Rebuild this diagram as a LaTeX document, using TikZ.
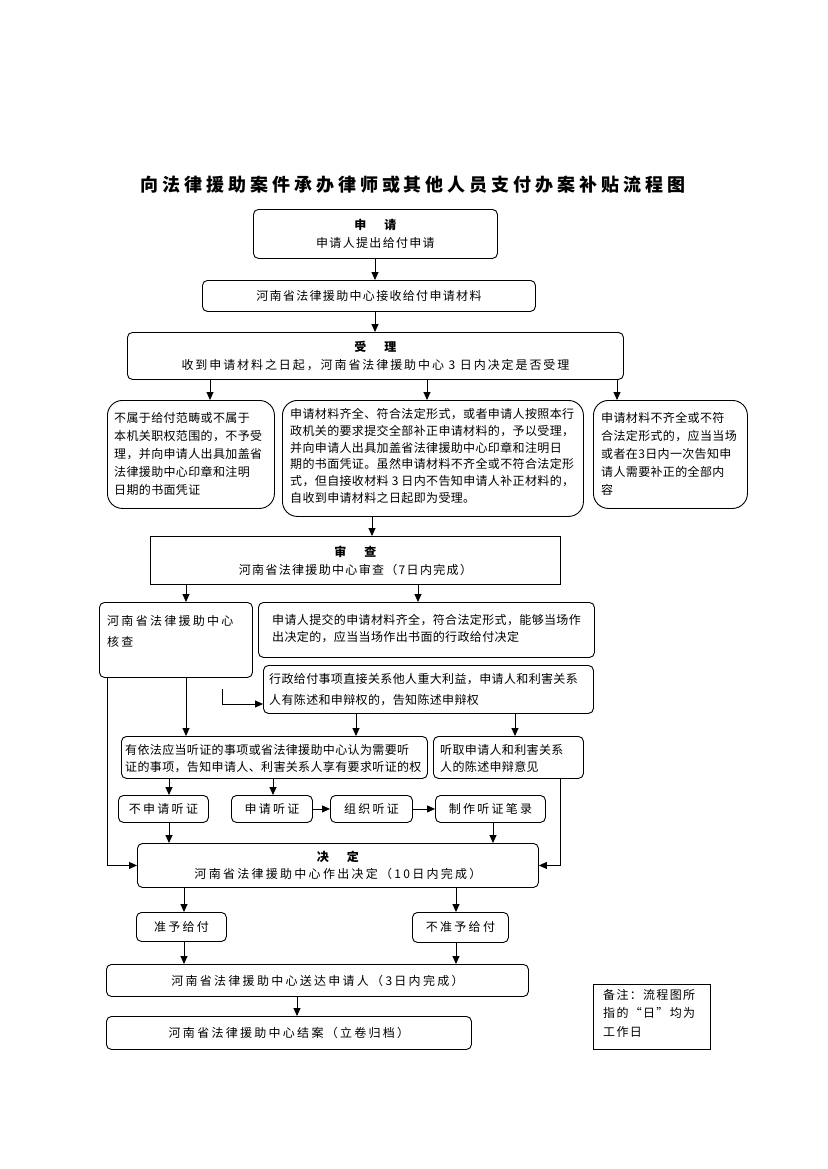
\documentclass[tikz,border=0pt]{standalone}
\usepackage{fontspec}
\setmainfont{Noto Sans CJK SC}
\newfontfamily\fT{Noto Sans CJK SC}[LetterSpace=22]
\newfontfamily\fH{Noto Sans CJK SC}[LetterSpace=25]
\newfontfamily\fS{Noto Sans CJK SC}[LetterSpace=3]
\newfontfamily\fM{Noto Sans CJK SC}[LetterSpace=11]
\newfontfamily\fL{Noto Sans CJK SC}[LetterSpace=16]
\newfontfamily\fW{Noto Sans CJK SC}[LetterSpace=19]
\usetikzlibrary{arrows.meta}
\newcommand\varr[3]{\draw[arr] (#2.south -| #1) -- (#3.north -| #1);}
\begin{document}
\begin{tikzpicture}[x=1pt,y=-1pt,
  bx/.style={draw, line width=0.9pt, rounded corners=5pt, anchor=north west, inner sep=0pt, align=center},
  big/.style={bx, rounded corners=15pt},
  sq/.style={bx, sharp corners},
  txt/.style={anchor=west, inner sep=0pt, align=left},
  arr/.style={line width=0.9pt, -{Triangle[length=8pt,width=7pt]}},
  hd/.style={font=\fontsize{12}{18}\selectfont}]
\useasboundingbox[fill=white] (0,0) rectangle (827,1169);

% title
\node[inner sep=0pt] (title) at (413,185) {\fT\bfseries\fontsize{18}{18}\selectfont 向法律援助案件承办律师或其他人员支付办案补贴流程图};

% boxes
\node[bx, hd, minimum width=244pt, minimum height=49pt] (A) at (253,209)
  {{\fH\bfseries 申　请}\\{\fM 申请人提出给付申请}};
\node[bx, minimum width=333pt, minimum height=31pt, font=\fM\fontsize{12}{18}\selectfont] (B) at (202,280)
  {河南省法律援助中心接收给付申请材料};
\node[bx, hd, minimum width=496pt, minimum height=47pt] (C) at (127,332)
  {{\fH\bfseries 受　理}\\{\fL 收到申请材料之日起，河南省法律援助中心 3 日内决定是否受理}};

\node[big, minimum width=167pt, minimum height=108pt] (D1) at (107,400) {};
\node[big, minimum width=301pt, minimum height=116pt] (D2) at (282,400) {};
\node[big, minimum width=154pt, minimum height=108pt] (D3) at (593,400) {};
\node[txt, font=\fS\fontsize{12}{18}\selectfont] (D1t) at (114,454)
  {不属于给付范畴或不属于\\本机关职权范围的，不予受\\理，并向申请人出具加盖省\\法律援助中心印章和注明\\日期的书面凭证};
\node[txt, font=\fS\fontsize{12}{16.8}\selectfont] (D2t) at (290,456)
  {申请材料齐全、符合法定形式，或者申请人按照本行\\政机关的要求提交全部补正申请材料的，予以受理，\\并向申请人出具加盖省法律援助中心印章和注明日\\期的书面凭证。虽然申请材料不齐全或不符合法定形\\式，但自接收材料 3 日内不告知申请人补正材料的，\\自收到申请材料之日起即为受理。};
\node[txt, font=\fS\fontsize{12}{18}\selectfont] (D3t) at (601,454)
  {申请材料不齐全或不符\\合法定形式的，应当当场\\或者在3日内一次告知申\\请人需要补正的全部内\\容};

\node[sq, hd, minimum width=410pt, minimum height=48pt] (E) at (150,536)
  {{\fH\bfseries 审　查}\\{\fM 河南省法律援助中心审查（7日内完成）}};

\node[bx, minimum width=153pt, minimum height=75pt] (F1) at (99,602) {};
\node[txt, font=\fW\fontsize{12}{21}\selectfont] (F1t) at (107,631) {河南省法律援助中心\\核查};
\node[bx, minimum width=336pt, minimum height=55pt] (F2) at (258,602) {};
\node[txt, font=\fS\fontsize{12}{17}\selectfont] (F2t) at (272,629)
  {申请人提交的申请材料齐全，符合法定形式，能够当场作\\出决定的，应当当场作出书面的行政给付决定};
\node[bx, minimum width=330pt, minimum height=48pt] (F3) at (263,665) {};
\node[txt, font=\fS\fontsize{12}{21}\selectfont] (F3t) at (269,690)
  {行政给付事项直接关系他人重大利益，申请人和利害关系\\人有陈述和申辩权的，告知陈述申辩权};

\node[bx, minimum width=306pt, minimum height=42pt] (G1) at (121,736) {};
\node[txt, font=\fS\fontsize{12}{17}\selectfont] (G1t) at (125,758.5)
  {有依法应当听证的事项或省法律援助中心认为需要听\\证的事项，告知申请人、利害关系人享有要求听证的权};
\node[bx, minimum width=150pt, minimum height=42pt] (G2) at (433,736) {};
\node[txt, font=\fS\fontsize{12}{17}\selectfont] (G2t) at (440,758.5)
  {听取申请人和利害关系\\人的陈述申辩意见};

\node[bx, minimum width=90pt, minimum height=27pt, font=\fW\fontsize{12}{14}\selectfont] (H1) at (118,795) {不申请听证};
\node[bx, minimum width=81pt, minimum height=27pt, font=\fW\fontsize{12}{14}\selectfont] (H2) at (231,795) {申请听证};
\node[bx, minimum width=82pt, minimum height=27pt, font=\fW\fontsize{12}{14}\selectfont] (H3) at (330,795) {组织听证};
\node[bx, minimum width=110pt, minimum height=27pt, font=\fW\fontsize{12}{14}\selectfont] (H4) at (435,795) {制作听证笔录};

\node[bx, font=\fontsize{12}{17}\selectfont, minimum width=401pt, minimum height=44pt] (I) at (137,843)
  {{\fH\bfseries 决　定}\\{\fW 河南省法律援助中心作出决定（10日内完成）}};

\node[bx, minimum width=90pt, minimum height=29pt, font=\fW\fontsize{12}{14}\selectfont] (J1) at (136,912) {准予给付};
\node[bx, minimum width=96pt, minimum height=30pt, font=\fW\fontsize{12}{14}\selectfont] (J2) at (412,912) {不准予给付};
\node[bx, minimum width=422pt, minimum height=32pt, font=\fW\fontsize{12}{14}\selectfont] (K) at (106,964) {河南省法律援助中心送达申请人（3日内完成）};
\node[bx, minimum width=365pt, minimum height=33pt, font=\fW\fontsize{12}{14}\selectfont] (L) at (106,1016) {河南省法律援助中心结案（立卷归档）};

\node[sq, minimum width=117pt, minimum height=65pt] (M) at (593,984) {};
\node[txt, font=\fM\fontsize{12}{18.5}\selectfont] (Mt) at (603,1013) {备注：流程图所\\指的“日”均为\\工作日};

% column coordinates
\foreach \v in {375,210,427,617,372,186,418,356,515,107,560,169,273,493,184,456,297}
  \coordinate (v\v) at (\v,0);
\coordinate (e1) at (222,689);
\coordinate (e2) at (222,704);

% connectors
\varr{v375}{A}{B}
\varr{v375}{B}{C}
\varr{v210}{C}{D1}
\varr{v427}{C}{D2}
\varr{v617}{C}{D3}
\varr{v372}{D2}{E}
\varr{v186}{E}{F1}
\varr{v418}{E}{F2}
\draw[arr] (e1) -- (e2) -- (e2 -| F3.west);
\varr{v186}{F1}{G1}
\varr{v356}{F3}{G1}
\varr{v515}{F3}{G2}
\draw[arr] (F1.south -| v107) |- (I.west);
\draw[arr] (G2.south -| v560) |- (I.east);
\varr{v169}{G1}{H1}
\varr{v273}{G1}{H2}
\draw[arr] (H2.east) -- (H3.west);
\draw[arr] (H3.east) -- (H4.west);
\varr{v169}{H1}{I}
\varr{v493}{H4}{I}
\varr{v184}{I}{J1}
\varr{v456}{I}{J2}
\varr{v184}{J1}{K}
\varr{v456}{J2}{K}
\varr{v297}{K}{L}
\end{tikzpicture}
\end{document}
